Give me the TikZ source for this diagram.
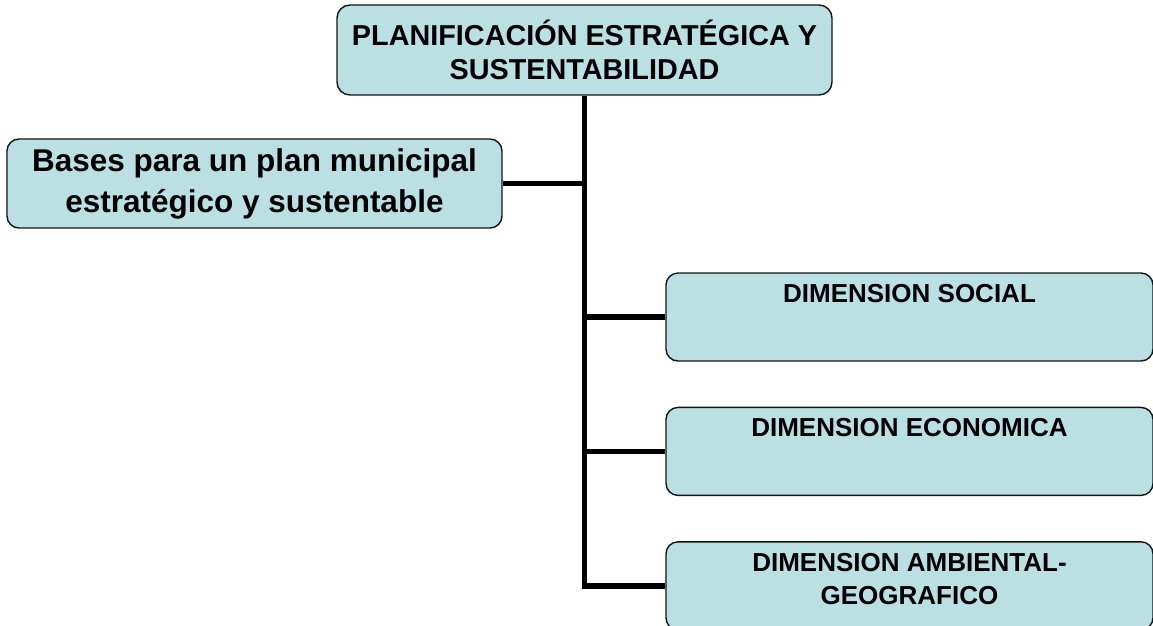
\documentclass[tikz,border=0pt]{standalone}
\usepackage{fontspec}
\setmainfont{Liberation Sans}
\usetikzlibrary{positioning}
\definecolor{boxteal}{RGB}{186,224,228}
\definecolor{boxline}{RGB}{20,20,20}
\newcommand{\lowstrut}{\rule[-14pt]{0pt}{14pt}}

\begin{document}
\begin{tikzpicture}[
  x=1pt,y=1pt,
  head/.style={draw=boxline,fill=boxteal,rounded corners=13pt,line width=1.4pt,align=center,minimum width=495pt,minimum height=90pt,inner sep=0pt,font=\fontsize{28.8}{34}\selectfont\bfseries},
  basebox/.style={draw=boxline,fill=boxteal,rounded corners=12pt,line width=1.4pt,align=center,minimum width=495pt,minimum height=89pt,inner sep=0pt,font=\fontsize{31.5}{41}\selectfont\bfseries},
  dimbox/.style={draw=boxline,fill=boxteal,rounded corners=12pt,line width=1.4pt,align=center,minimum width=487pt,minimum height=88pt,inner sep=0pt,font=\fontsize{26}{33}\selectfont\bfseries},
  trunk/.style={line width=5.5pt,draw=black}
]
\useasboundingbox (0,0) rectangle (1153,-625);
% ---------------- title and bases (top) ----------------
\node[head] (plan) at (584.5,-50) {PLANIFICACIÓN ESTRATÉGICA Y\\SUSTENTABILIDAD};
\node[basebox] (bases) at (254.5,-183.5) {Bases para un plan municipal\\estratégico y sustentable};
% ---------------- dimensions (right column) ----------------
\node[dimbox] (social) at (909.5,-317) {DIMENSION SOCIAL\\\lowstrut};
\node[dimbox,below=45pt of social] (econ) {DIMENSION ECONOMICA\\\lowstrut};
\node[dimbox,below=45pt of econ] (amb) {DIMENSION AMBIENTAL-\\GEOGRAFICO\lowstrut};
% ---------------- connectors ----------------
\draw[trunk] (plan.south) |- (amb.west);
\draw[trunk] (bases.east) -- (bases.east -| plan.south);
\draw[trunk] (social.west) -- (social.west -| plan.south);
\draw[trunk] (econ.west) -- (econ.west -| plan.south);
\end{tikzpicture}
\end{document}
